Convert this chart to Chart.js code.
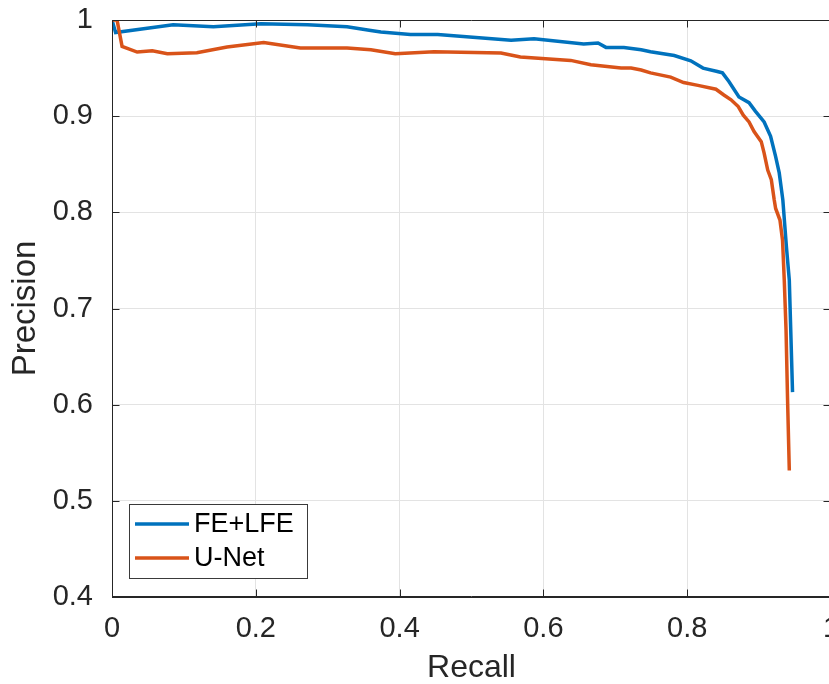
<!DOCTYPE html>
<html>
<head>
<meta charset="utf-8">
<script src="https://cdn.jsdelivr.net/npm/chart.js@4/dist/chart.umd.min.js"></script>
<style>
  html, body { margin: 0; padding: 0; background: #ffffff; overflow: hidden; }
  #wrap { width: 829px; height: 684px; overflow: hidden; position: relative; }
  canvas { display: block; }
</style>
</head>
<body>
<div id="wrap"><canvas id="c" width="831" height="684"></canvas></div>
<script>
// ---- data ----
const seriesNames = ['FE+LFE', 'U-Net'];
const recallFE = [0, 0.005, 0.085, 0.141, 0.207, 0.272, 0.327, 0.36, 0.374, 0.415, 0.453, 0.555, 0.587, 0.656, 0.676, 0.687, 0.712, 0.736, 0.749, 0.782, 0.805, 0.822, 0.842, 0.849, 0.858, 0.872, 0.886, 0.895, 0.907, 0.916, 0.923, 0.928, 0.933, 0.938, 0.942, 0.9465];
const precisionFE = [1.0, 0.987, 0.995, 0.993, 0.996, 0.995, 0.993, 0.989, 0.9875, 0.985, 0.985, 0.979, 0.9805, 0.975, 0.976, 0.9715, 0.9715, 0.969, 0.967, 0.963, 0.9576, 0.950, 0.9465, 0.945, 0.936, 0.920, 0.914, 0.905, 0.894, 0.879, 0.858, 0.841, 0.813, 0.764, 0.7295, 0.613];
const recallUNet = [0, 0.007, 0.014, 0.035, 0.056, 0.077, 0.118, 0.160, 0.211, 0.262, 0.327, 0.360, 0.394, 0.448, 0.541, 0.568, 0.638, 0.666, 0.708, 0.722, 0.736, 0.749, 0.777, 0.795, 0.815, 0.840, 0.851, 0.861, 0.871, 0.878, 0.886, 0.893, 0.903, 0.907, 0.912, 0.917, 0.921, 0.923, 0.929, 0.9326, 0.935, 0.9375, 0.9395, 0.942];
const precisionUNet = [1.0, 1.0, 0.9725, 0.9667, 0.968, 0.965, 0.966, 0.972, 0.9767, 0.971, 0.971, 0.969, 0.965, 0.967, 0.9656, 0.9615, 0.958, 0.9535, 0.950, 0.950, 0.948, 0.945, 0.9406, 0.935, 0.932, 0.928, 0.922, 0.917, 0.910, 0.901, 0.894, 0.884, 0.8735, 0.8615, 0.844, 0.834, 0.813, 0.804, 0.792, 0.771, 0.7295, 0.677, 0.608, 0.5315];
const xTicks = [0, 0.2, 0.4, 0.6, 0.8, 1];
const yTicks = [0.4, 0.5, 0.6, 0.7, 0.8, 0.9, 1];
const xTitle = 'Recall';
const yTitle = 'Precision';

const FONT = "'Liberation Sans', Arial, Helvetica, sans-serif";
const AXIS_COLOR = '#262626';
const colors = ['#0072BD', '#D95319'];

function toPoints(xs, ys) { return xs.map((x, i) => ({ x: x, y: ys[i] })); }
function fmt(v) { return String(Math.round(v * 10) / 10); }

// box + inward ticks (MATLAB style)
const boxPlugin = {
  id: 'box',
  afterDatasetsDraw(chart) {
    const { ctx, chartArea: a, scales } = chart;
    ctx.save();
    ctx.strokeStyle = AXIS_COLOR;
    ctx.lineWidth = 1;
    const L = Math.round(a.left) + 0.5, R = Math.round(a.right) - 0.5;
    const T = Math.round(a.top) + 0.5, B = Math.round(a.bottom) - 0.5;
    ctx.beginPath();
    ctx.rect(L, T, R - L, B - T);
    ctx.stroke();
    const tl = 7;
    ctx.beginPath();
    xTicks.forEach(v => {
      const px = Math.round(scales.x.getPixelForValue(v)) + 0.5;
      ctx.moveTo(px, B); ctx.lineTo(px, B - tl);
      ctx.moveTo(px, T); ctx.lineTo(px, T + tl);
    });
    yTicks.forEach(v => {
      const py = Math.round(scales.y.getPixelForValue(v)) + 0.5;
      ctx.moveTo(L, py); ctx.lineTo(L + tl, py);
      ctx.moveTo(R, py); ctx.lineTo(R - tl, py);
    });
    ctx.stroke();
    ctx.restore();
  }
};

// legend inside the axes, bottom-left
const legendPlugin = {
  id: 'insideLegend',
  afterDraw(chart) {
    const { ctx } = chart;
    const bx = 129.5, by = 504.5, bw = 178, bh = 74;
    ctx.save();
    ctx.fillStyle = '#ffffff';
    ctx.fillRect(bx, by, bw, bh);
    ctx.strokeStyle = '#3a3a3a';
    ctx.lineWidth = 1;
    ctx.strokeRect(bx, by, bw, bh);
    ctx.font = '27px ' + FONT;
    ctx.textBaseline = 'middle';
    const rows = [524, 558];
    chart.data.datasets.forEach((ds, i) => {
      const y = rows[i];
      ctx.strokeStyle = ds.borderColor;
      ctx.lineWidth = 3.5;
      ctx.beginPath();
      ctx.moveTo(135, y); ctx.lineTo(189, y);
      ctx.stroke();
      ctx.fillStyle = '#000000';
      ctx.fillText(ds.label, 194, y + 1);
    });
    ctx.restore();
  }
};

new Chart(document.getElementById('c'), {
  type: 'line',
  data: {
    datasets: [
      { label: seriesNames[0], data: toPoints(recallFE, precisionFE), borderColor: colors[0], backgroundColor: colors[0], borderWidth: 3.5, pointRadius: 0, tension: 0, fill: false, order: 2 },
      { label: seriesNames[1], data: toPoints(recallUNet, precisionUNet), borderColor: colors[1], backgroundColor: colors[1], borderWidth: 3.5, pointRadius: 0, tension: 0, fill: false, order: 1 }
    ]
  },
  options: {
    responsive: false,
    animation: false,
    devicePixelRatio: 1,
    layout: { padding: { left: 0, right: 0, top: 20, bottom: 0 } },
    plugins: { legend: { display: false }, tooltip: { enabled: false } },
    scales: {
      x: {
        type: 'linear', min: 0, max: 1,
        afterBuildTicks(scale) { scale.ticks = xTicks.map(v => ({ value: v })); },
        afterFit(scale) { scale.height = 87; scale.paddingLeft = 0; scale.paddingRight = 0; },
        ticks: { callback: v => fmt(v), color: '#262626', font: { family: FONT, size: 29 }, padding: 15, maxRotation: 0, autoSkip: false },
        grid: { color: '#e3e3e3', lineWidth: 1, drawTicks: false },
        border: { display: true, color: AXIS_COLOR, width: 1 },
        title: { display: true, text: xTitle, color: '#262626', font: { family: FONT, size: 32 }, padding: { top: 0, bottom: -3 } }
      },
      y: {
        type: 'linear', min: 0.4, max: 1,
        afterBuildTicks(scale) { scale.ticks = yTicks.map(v => ({ value: v })); },
        afterFit(scale) { scale.width = 112; scale.paddingTop = 0; scale.paddingBottom = 0; },
        ticks: { callback: v => fmt(v), color: '#262626', font: { family: FONT, size: 29 }, padding: 19, autoSkip: false },
        grid: { color: '#e3e3e3', lineWidth: 1, drawTicks: false },
        border: { display: true, color: AXIS_COLOR, width: 1 },
        title: { display: true, text: yTitle, color: '#262626', font: { family: FONT, size: 33 }, padding: { top: 6, bottom: 0 } }
      }
    }
  },
  plugins: [boxPlugin, legendPlugin]
});
</script>
</body>
</html>
